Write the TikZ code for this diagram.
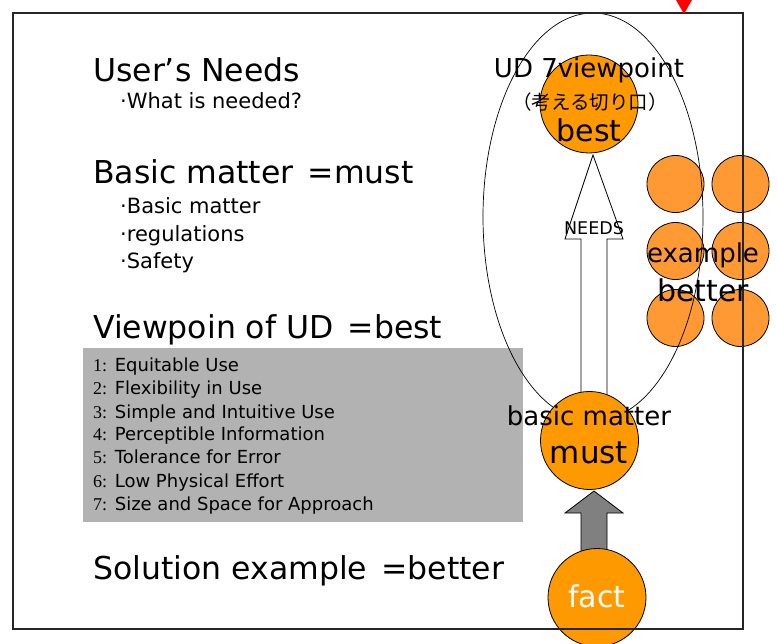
\documentclass[tikz,border=0pt]{standalone}
\usepackage{fontspec}
\usetikzlibrary{shapes.geometric}
\setmainfont{DejaVu Sans}
\newfontfamily\jpfont{Noto Sans CJK JP}
\newfontfamily\numfont{Liberation Serif}
\definecolor{mainorange}{HTML}{FF9900}
\definecolor{lightorange}{HTML}{FF9933}
\definecolor{boxgray}{HTML}{B2B2B2}
\definecolor{arrowgray}{HTML}{808080}
\newcommand{\fs}[1]{\fontsize{#1}{#1}\selectfont}
\tikzset{
  bigball/.style={circle, draw=black, line width=0.8pt, fill=mainorange, minimum size=98pt, inner sep=0pt},
  smallball/.style={circle, draw=black, line width=0.8pt, fill=lightorange, minimum size=57pt, inner sep=0pt},
  head/.style={anchor=base west, inner sep=0pt, font=\fs{31.5}},
  bullet/.style={anchor=base west, inner sep=0pt, font=\fs{21}},
  listitem/.style={anchor=base west, inner sep=0pt, font=\fs{18}},
  txt/.style={anchor=base, inner sep=0pt},
  blockarrow/.style={draw=black, line width=0.8pt}
}
\begin{document}
\begin{tikzpicture}[x=1pt,y=-1pt]
\useasboundingbox (0,0) rectangle (777,644);
\fill[white] (0,0) rectangle (777,644);

% example circles
\node[smallball] (c11) at (675.5,184) {};
\node[smallball] (c12) at (740.5,184) {};
\node[smallball] (c21) at (675.5,251) {};
\node[smallball] (c22) at (740.5,251) {};
\node[smallball] (c31) at (675.5,318) {};
\node[smallball] (c32) at (740.5,318) {};

% gray list box
\node[fill=boxgray, anchor=north west, minimum width=440pt, minimum height=174pt, inner sep=0pt] (listbox) at (83,348) {};

% big ellipse
\node[ellipse, draw=black, line width=0.7pt, minimum width=220pt, minimum height=408pt, inner sep=0pt] (ud) at (593,217) {};

% circles
\node[bigball] (best) at (589,104) {};

% NEEDS arrow (white block arrow)
\coordinate (ntip) at (593,155);
\draw[blockarrow, fill=white] (ntip) -- (623,239) -- (607,239) -- (607,400) -- (581,400) -- (581,239) -- (565,239) -- cycle;
\node[bigball] (must) at (589.5,440.5) {};

% gray arrow
\coordinate (gtip) at (594,491);
\draw[blockarrow, fill=arrowgray] (gtip) -- (623,513) -- (607,513) -- (607,552) -- (581,552) -- (581,513) -- (565,513) -- cycle;
\node[bigball] (fact) at (597,597.5) {};

% frame
\node[draw=black!85, line width=2pt, anchor=north west, minimum width=730pt, minimum height=616pt, inner sep=0pt] (frame) at (12,12) {};

% red marker
\fill[red] (676,0) -- (692,0) -- (684,14) -- cycle;

% left texts
\node[head] (t1) at (93,82) {User’s Needs};
\node[bullet] (t1a) at (120,109) {·What is needed?};
\node[head] (t2) at (93,184) {Basic matter\hspace{0.45em}=must};
\node[bullet] (t2a) at (120,214) {·Basic matter};
\node[bullet] (t2b) at (120,242) {·regulations};
\node[bullet] (t2c) at (120,269) {·Safety};
\node[head] (t3) at (93,339) {Viewpoin of UD\hspace{0.45em}=best};
\node[head] (t4) at (93,579) {Solution example\hspace{0.45em}=better};

\node[listitem] (l1) at (93,372) {{\numfont 1:} Equitable Use};
\node[listitem] (l2) at (93,395) {{\numfont 2:} Flexibility in Use};
\node[listitem] (l3) at (93,418) {{\numfont 3:} Simple and Intuitive Use};
\node[listitem] (l4) at (93,441) {{\numfont 4:} Perceptible Information};
\node[listitem] (l5) at (93,464) {{\numfont 5:} Tolerance for Error};
\node[listitem] (l6) at (93,487) {{\numfont 6:} Low Physical Effort};
\node[listitem] (l7) at (93,510) {{\numfont 7:} Size and Space for Approach};

% right texts
\node[txt, font=\fs{26}] (udt) at (589,78) {UD 7viewpoint};
\node[txt, font=\fs{19.5}\jpfont] (jp) at (590,110) {（考える切り口）};
\node[txt, font=\fs{30}] (bestt) at (589,142) {best};
\node[txt, font=\fs{17.5}] (needs) at (594,235) {NEEDS};
\node[txt, font=\fs{26}] (ex) at (703,263) {example};
\node[txt, font=\fs{30}] (bet) at (703,302) {better};
\node[txt, font=\fs{26}] (bm) at (589,425) {basic matter};
\node[txt, font=\fs{31}] (mustt) at (589,463) {must};
\node[txt, font=\fs{30}, text=white] (factt) at (597,607) {fact};
\end{tikzpicture}
\end{document}
